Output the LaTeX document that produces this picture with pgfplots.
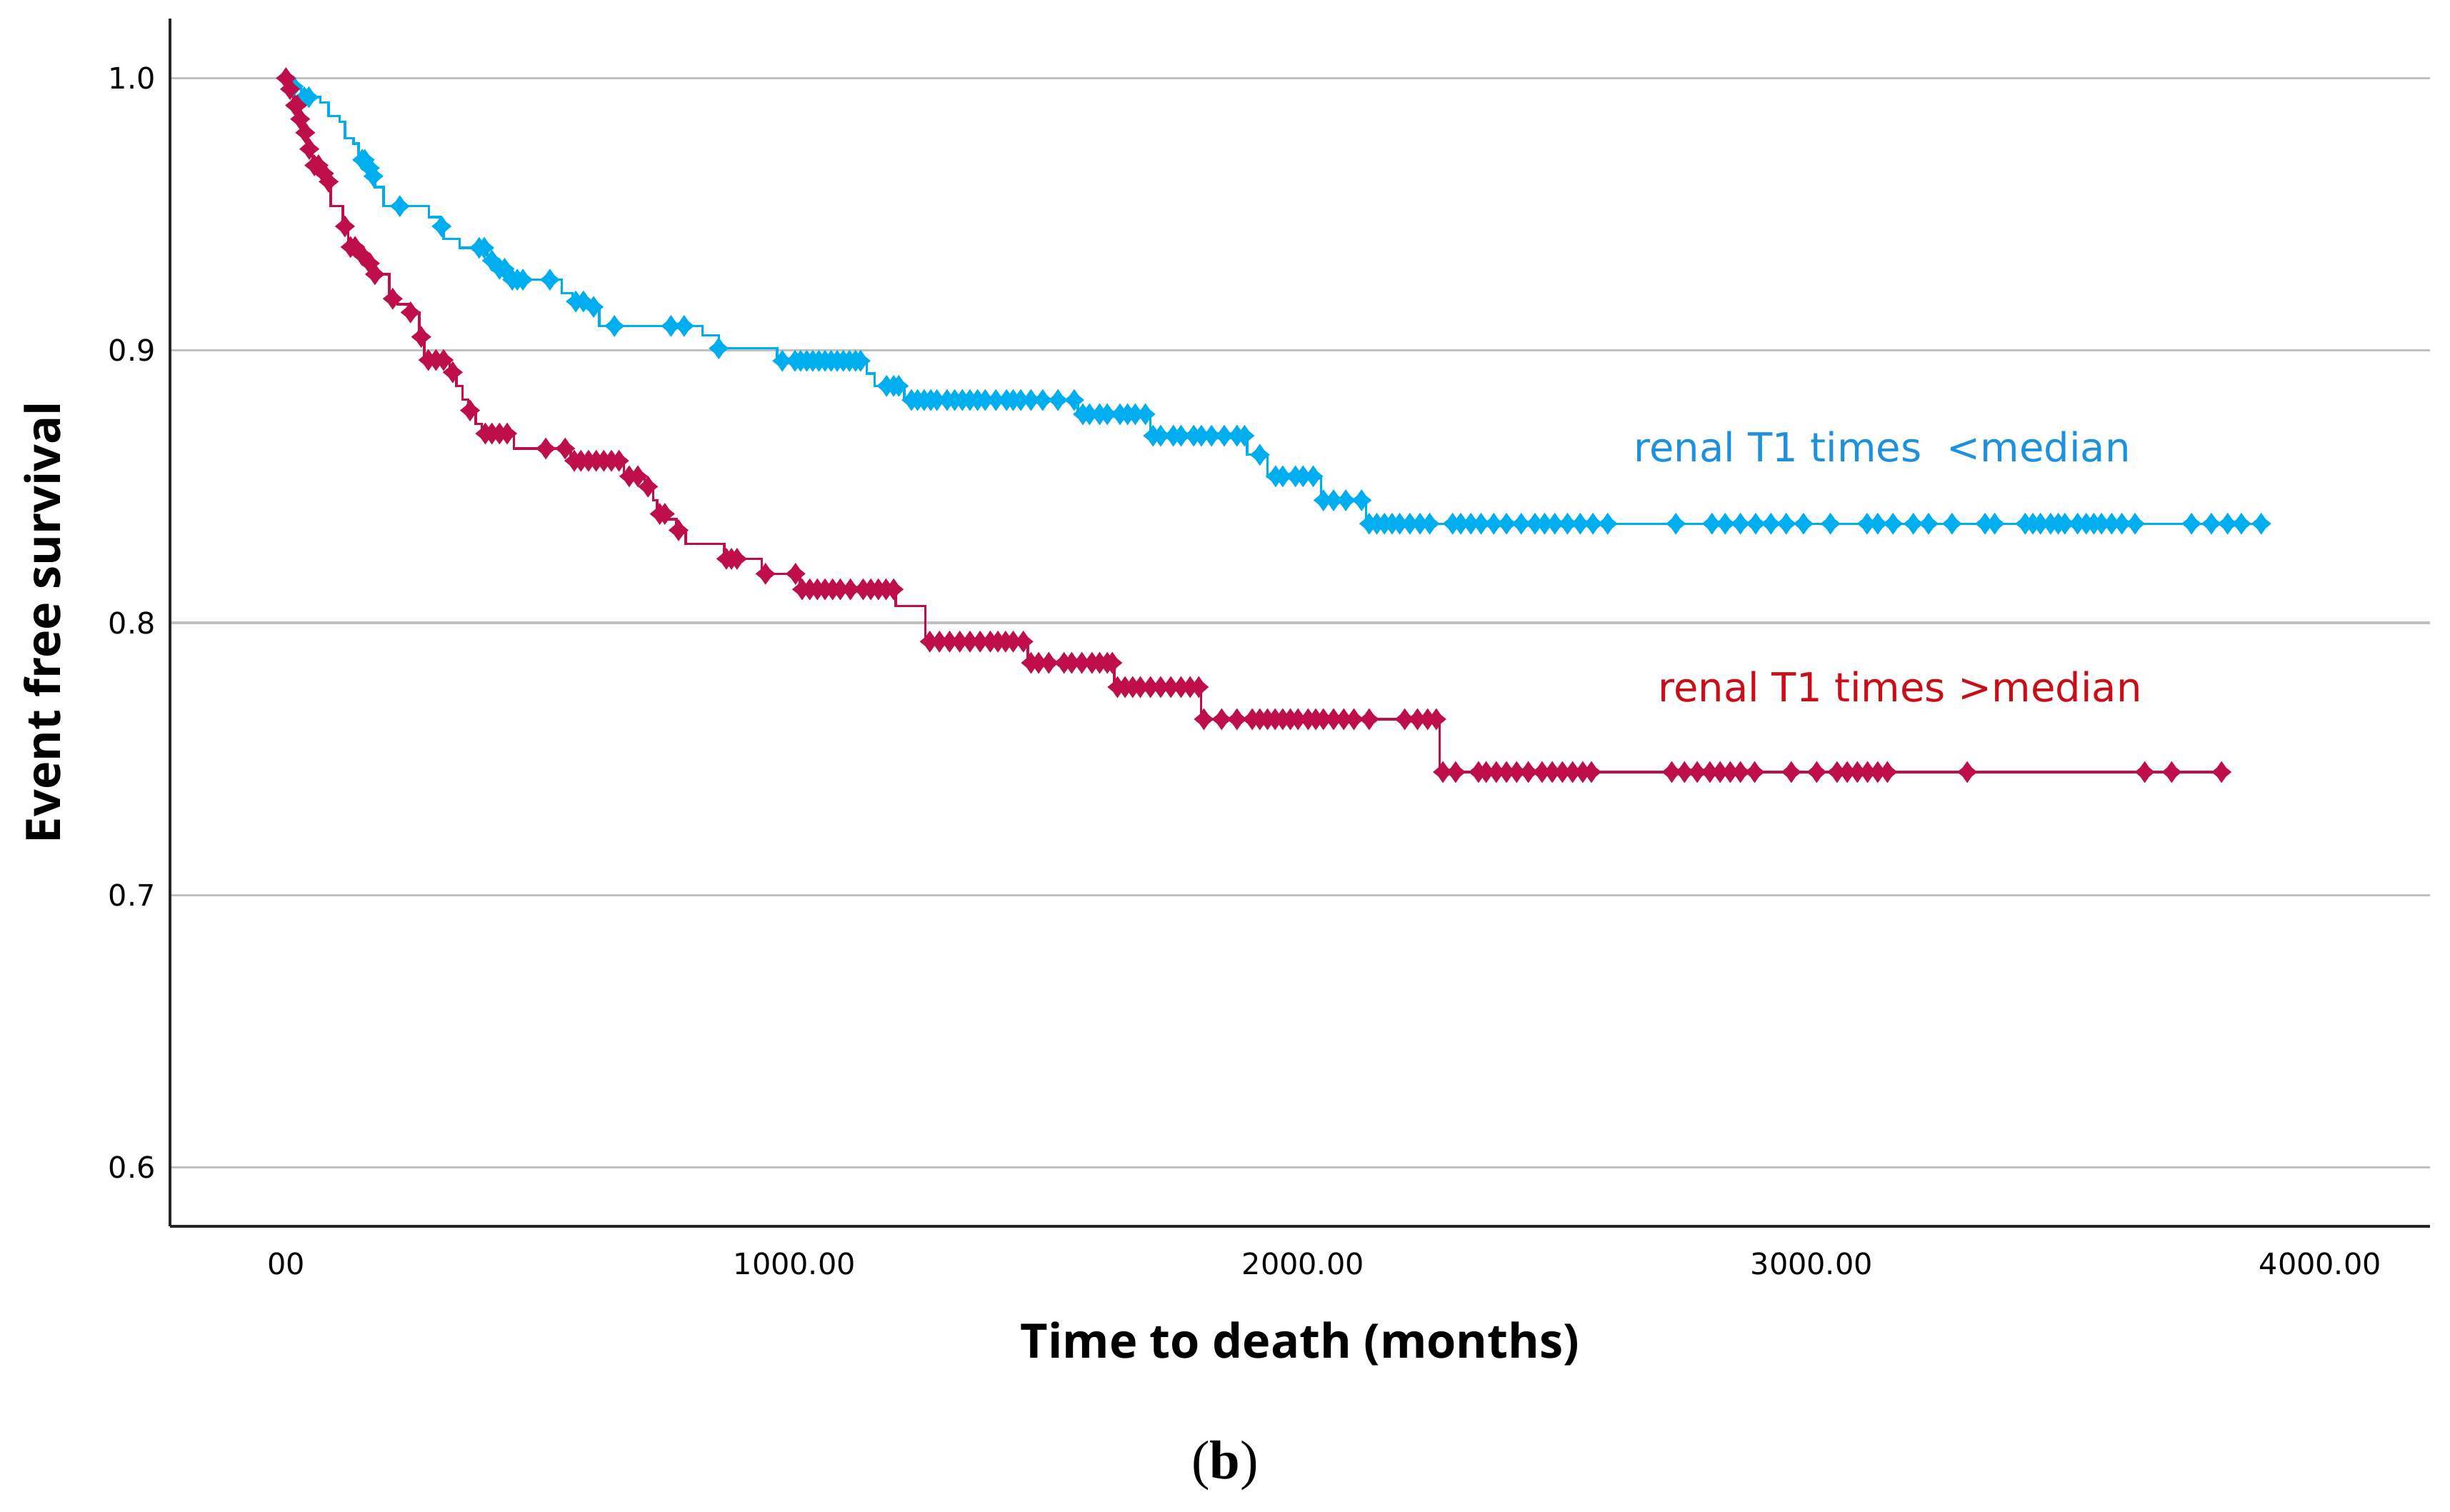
\documentclass[border=0pt]{standalone}
\usepackage{fontspec}
\setmainfont{DejaVu Sans}
\newfontfamily\labelfamily{Open Sans}
\newfontfamily\capfamily{Liberation Serif}
\usepackage{pgfplots}
\pgfplotsset{compat=1.18}
\definecolor{kmblue}{RGB}{0,174,239}
\definecolor{kmred}{RGB}{190,15,75}
\definecolor{txtblue}{RGB}{30,144,222}
\definecolor{txtred}{RGB}{200,15,25}
\definecolor{gridgray}{RGB}{192,192,192}
\newcommand\tickfont{\fontsize{6.2}{7}\selectfont}
\newcommand\labfont{\labelfamily\bfseries\fontsize{10}{12}\selectfont}
\pgfdeclareplotmark{kmstar}{%
 \pgfpathmoveto{\pgfqpoint{0pt}{2.3pt}}%
 \pgfpathlineto{\pgfqpoint{0.95pt}{0.95pt}}%
 \pgfpathlineto{\pgfqpoint{2.1pt}{0pt}}%
 \pgfpathlineto{\pgfqpoint{0.95pt}{-0.95pt}}%
 \pgfpathlineto{\pgfqpoint{0pt}{-2.3pt}}%
 \pgfpathlineto{\pgfqpoint{-0.95pt}{-0.95pt}}%
 \pgfpathlineto{\pgfqpoint{-2.1pt}{0pt}}%
 \pgfpathlineto{\pgfqpoint{-0.95pt}{0.95pt}}%
 \pgfpathclose
 \pgfusepathqfill}
\begin{document}
\begin{tikzpicture}
\useasboundingbox (-35.7pt,-60pt) rectangle (478.8pt,257.55pt);
\begin{axis}[
 at={(0pt,0pt)}, anchor=south west,
 scale only axis, width=474.6pt, height=253.65pt,
 xmin=-228, xmax=4216, ymin=0.5784, ymax=1.0219,
 axis x line=bottom, axis y line=left,
 axis line style={-, black!85, line width=0.6pt},
 xtick={0,1000,2000,3000,4000}, xticklabels={00,1000.00,2000.00,3000.00,4000.00},
 ytick={0.6,0.7,0.8,0.9,1.0}, yticklabels={0.6,0.7,0.8,0.9,1.0},
 major tick length=0pt,
 ymajorgrids, xmajorgrids=false, grid style={gridgray, line width=0.5pt},
 tick label style={font=\tickfont, text=black},
 xticklabel style={anchor=north, inner sep=0pt, yshift=-5.3pt},
 yticklabel style={anchor=east, inner sep=0pt, xshift=-2.85pt},
 xlabel={Time to death (months)}, ylabel={Event free survival},
 every axis x label/.style={at={(rel axis cs:0.5,0)}, yshift=-24.6pt, anchor=center, font=\labfont},
 every axis y label/.style={at={(rel axis cs:0,0.5)}, xshift=-26.85pt, anchor=center, rotate=90, font=\labfont},
 clip=false,
]
% ---- blue: renal T1 times < median ----
\addplot[const plot mark left, kmblue, line width=0.5pt] table {
x y
0 1.000
5 0.997
30 0.993
68 0.991
84 0.986
106 0.984
116 0.978
133 0.976
143 0.970
160 0.967
171 0.964
175 0.960
192 0.953
281 0.949
304 0.9456
310 0.941
342 0.9377
396 0.935
401 0.933
415 0.930
439 0.926
542 0.921
563 0.918
601 0.916
616 0.909
819 0.9055
851 0.9008
966 0.8962
1142 0.8915
1158 0.887
1216 0.8818
1557 0.8766
1700 0.8687
1890 0.8617
1930 0.8538
2035 0.845
2124 0.8364
3886 0.8364
};
\addplot[only marks, mark=kmstar, kmblue] table {
x y
15 0.997
36 0.993
45 0.993
150 0.970
155 0.970
165 0.967
172 0.964
224 0.953
306 0.9456
380 0.9377
390 0.9377
405 0.933
420 0.930
430 0.930
445 0.926
455 0.926
466 0.926
519 0.926
570 0.918
585 0.918
605 0.916
646 0.909
757 0.909
783 0.909
851 0.9008
976 0.8962
1001 0.8962
1012 0.8962
1024 0.8962
1036 0.8962
1048 0.8962
1060 0.8962
1072 0.8962
1084 0.8962
1096 0.8962
1108 0.8962
1120 0.8962
1130 0.8962
1181 0.887
1195 0.887
1205 0.887
1230 0.8818
1242 0.8818
1255 0.8818
1268 0.8818
1280 0.8818
1300 0.8818
1315 0.8818
1330 0.8818
1345 0.8818
1360 0.8818
1375 0.8818
1396 0.8818
1417 0.8818
1430 0.8818
1445 0.8818
1465 0.8818
1488 0.8818
1518 0.8818
1550 0.8818
1567 0.8766
1580 0.8766
1600 0.8766
1615 0.8766
1640 0.8766
1655 0.8766
1670 0.8766
1690 0.8766
1705 0.8687
1720 0.8687
1745 0.8687
1760 0.8687
1785 0.8687
1800 0.8687
1820 0.8687
1845 0.8687
1870 0.8687
1885 0.8687
1915 0.8617
1946 0.8538
1960 0.8538
1985 0.8538
2000 0.8538
2020 0.8538
2040 0.845
2060 0.845
2084 0.845
2115 0.845
2130 0.8364
2145 0.8364
2160 0.8364
2175 0.8364
2190 0.8364
2210 0.8364
2230 0.8364
2249 0.8364
2294 0.8364
2310 0.8364
2330 0.8364
2350 0.8364
2375 0.8364
2400 0.8364
2429 0.8364
2456 0.8364
2475 0.8364
2495 0.8364
2520 0.8364
2545 0.8364
2570 0.8364
2599 0.8364
2733 0.8364
2804 0.8364
2830 0.8364
2860 0.8364
2890 0.8364
2920 0.8364
2950 0.8364
2984 0.8364
3037 0.8364
3109 0.8364
3130 0.8364
3160 0.8364
3200 0.8364
3230 0.8364
3276 0.8364
3341 0.8364
3360 0.8364
3420 0.8364
3435 0.8364
3450 0.8364
3470 0.8364
3485 0.8364
3498 0.8364
3523 0.8364
3540 0.8364
3555 0.8364
3570 0.8364
3590 0.8364
3610 0.8364
3636 0.8364
3747 0.8364
3786 0.8364
3818 0.8364
3845 0.8364
3884 0.8364
};
% ---- red: renal T1 times > median ----
\addplot[const plot mark left, kmred, line width=0.5pt] table {
x y
0 1.000
4 0.996
15 0.990
25 0.985
35 0.980
42 0.974
52 0.968
70 0.965
80 0.962
88 0.953
112 0.9456
122 0.938
145 0.935
160 0.932
171 0.928
203 0.919
219 0.917
240 0.914
262 0.905
272 0.8965
322 0.892
335 0.887
347 0.882
358 0.878
373 0.873
385 0.8695
448 0.864
560 0.8595
665 0.8538
705 0.850
722 0.845
730 0.840
748 0.838
768 0.834
786 0.829
862 0.8235
936 0.818
1011 0.8123
1199 0.8062
1257 0.7931
1459 0.7853
1629 0.7764
1799 0.7646
2269 0.7452
3806 0.7452
};
\addplot[only marks, mark=kmstar, kmred] table {
x y
0 1.000
8 0.996
18 0.990
22 0.990
28 0.985
38 0.980
46 0.974
56 0.968
64 0.968
75 0.965
84 0.962
116 0.9456
127 0.938
136 0.938
150 0.935
165 0.932
175 0.928
210 0.919
245 0.914
266 0.905
280 0.8965
295 0.8965
310 0.8965
328 0.892
362 0.878
392 0.8695
405 0.8695
420 0.8695
435 0.8695
511 0.864
549 0.864
567 0.8595
580 0.8595
595 0.8595
610 0.8595
625 0.8595
640 0.8595
655 0.8595
675 0.8538
692 0.8538
712 0.850
735 0.840
745 0.840
772 0.834
866 0.8235
876 0.8235
887 0.8235
943 0.818
1002 0.818
1015 0.8123
1030 0.8123
1045 0.8123
1060 0.8123
1075 0.8123
1090 0.8123
1110 0.8123
1135 0.8123
1150 0.8123
1165 0.8123
1180 0.8123
1195 0.8123
1266 0.7931
1285 0.7931
1305 0.7931
1325 0.7931
1345 0.7931
1365 0.7931
1385 0.7931
1400 0.7931
1415 0.7931
1430 0.7931
1450 0.7931
1465 0.7853
1480 0.7853
1500 0.7853
1530 0.7853
1545 0.7853
1565 0.7853
1585 0.7853
1600 0.7853
1615 0.7853
1625 0.7853
1635 0.7764
1650 0.7764
1665 0.7764
1680 0.7764
1700 0.7764
1720 0.7764
1740 0.7764
1760 0.7764
1778 0.7764
1795 0.7764
1805 0.7646
1840 0.7646
1870 0.7646
1900 0.7646
1915 0.7646
1930 0.7646
1945 0.7646
1960 0.7646
1975 0.7646
1990 0.7646
2010 0.7646
2025 0.7646
2040 0.7646
2060 0.7646
2080 0.7646
2100 0.7646
2130 0.7646
2200 0.7646
2225 0.7646
2245 0.7646
2262 0.7646
2275 0.7452
2300 0.7452
2345 0.7452
2360 0.7452
2380 0.7452
2400 0.7452
2420 0.7452
2443 0.7452
2470 0.7452
2490 0.7452
2510 0.7452
2530 0.7452
2550 0.7452
2567 0.7452
2725 0.7452
2750 0.7452
2775 0.7452
2800 0.7452
2820 0.7452
2840 0.7452
2860 0.7452
2888 0.7452
2960 0.7452
3010 0.7452
3050 0.7452
3070 0.7452
3090 0.7452
3110 0.7452
3130 0.7452
3149 0.7452
3306 0.7452
3655 0.7452
3708 0.7452
3806 0.7452
};
\node[font=\fontsize{8.4}{10}\selectfont, text=txtblue, inner sep=0pt] at (axis cs:3139,0.8645) {renal T1 times\ \ <median};
\node[font=\fontsize{8.4}{10}\selectfont, text=txtred, inner sep=0pt] at (axis cs:3174,0.7764) {renal T1 times\ >median};
\end{axis}
\node[font=\capfamily\fontsize{11.5}{13}\selectfont, inner sep=0pt] at (221.55pt,-50.25pt) {(\textbf{b})};
\end{tikzpicture}
\end{document}
